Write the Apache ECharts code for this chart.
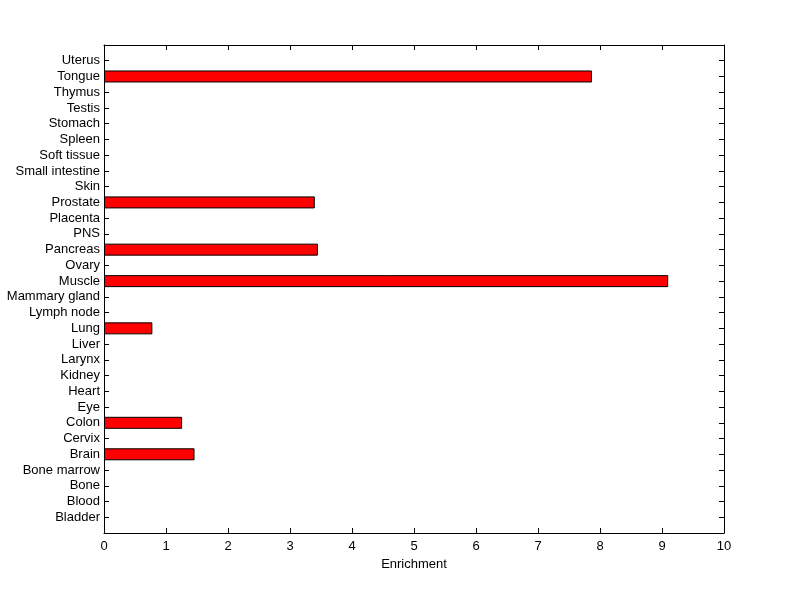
<!DOCTYPE html>
<html>
<head>
<meta charset="utf-8">
<script src="https://cdn.jsdelivr.net/npm/echarts@6/dist/echarts.min.js"></script>
<style>
  html, body { margin: 0; padding: 0; background: #fff; }
  #chart { width: 800px; height: 599px; }
</style>
</head>
<body>
<div id="chart"></div>
<script>
// tissues, bottom to top
const tissues = ['Bladder', 'Blood', 'Bone', 'Bone marrow', 'Brain', 'Cervix', 'Colon', 'Eye', 'Heart',
    'Kidney', 'Larynx', 'Liver', 'Lung', 'Lymph node', 'Mammary gland', 'Muscle', 'Ovary', 'Pancreas',
    'PNS', 'Placenta', 'Prostate', 'Skin', 'Small intestine', 'Soft tissue', 'Spleen', 'Stomach',
    'Testis', 'Thymus', 'Tongue', 'Uterus'];
const enrichment = [0, 0, 0, 0, 1.46, 0, 1.26, 0, 0,
    0, 0, 0, 0.78, 0, 0, 9.1, 0, 3.45,
    0, 0, 3.4, 0, 0, 0, 0, 0,
    0, 0, 7.87, 0];
const xTicks = [0, 1, 2, 3, 4, 5, 6, 7, 8, 9, 10];

// pad one empty slot at each end so the box leaves a gap like matlab does
const cats = [''].concat(tissues, ['']);
const vals = [null].concat(enrichment.map(v => v > 0 ? v : null), [null]);

const chart = echarts.init(document.getElementById('chart'));
const font = 'Liberation Sans, Arial, sans-serif';

const xBase = {
    type: 'value',
    min: xTicks[0],
    max: xTicks[xTicks.length - 1],
    interval: 1,
    axisLine: { show: true, lineStyle: { color: '#000', width: 1 } },
    axisTick: { show: true, inside: true, length: 5, lineStyle: { color: '#000' } },
    splitLine: { show: false }
};
const yBase = {
    type: 'category',
    data: cats,
    boundaryGap: false,
    axisLine: { show: true, onZero: false, lineStyle: { color: '#000', width: 1 } },
    axisTick: { show: true, inside: true, length: 5, interval: 0, lineStyle: { color: '#000' } },
    splitLine: { show: false }
};

chart.setOption({
    animation: false,
    backgroundColor: '#fff',
    grid: { left: 104, right: 76, top: 45, bottom: 66 },
    xAxis: [
        Object.assign({}, xBase, {
            position: 'bottom',
            name: 'Enrichment',
            nameLocation: 'middle',
            nameGap: 23,
            nameTextStyle: { color: '#000', fontFamily: font, fontSize: 13 },
            axisLabel: { color: '#000', fontFamily: font, fontSize: 13, margin: 7 }
        }),
        Object.assign({}, xBase, { position: 'top', axisLabel: { show: false } })
    ],
    yAxis: [
        Object.assign({}, yBase, {
            position: 'left',
            axisLabel: { color: '#000', fontFamily: font, fontSize: 13, margin: 4, interval: 0 }
        }),
        Object.assign({}, yBase, { position: 'right', axisLabel: { show: false } })
    ],
    series: [{
        type: 'bar',
        data: vals,
        barWidth: 12,
        itemStyle: { color: '#ff0000', borderColor: '#000', borderWidth: 1 }
    }]
});
</script>
</body>
</html>
